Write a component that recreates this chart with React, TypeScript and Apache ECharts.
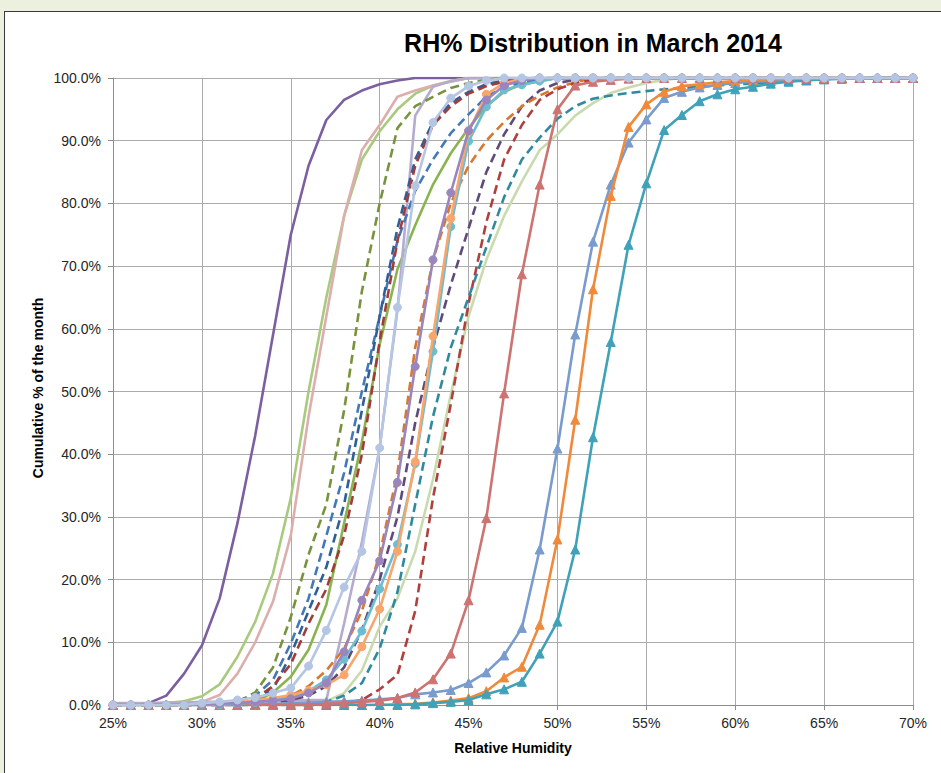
import React, { useEffect, useRef } from "react";
import * as echarts from "echarts";

// Relative humidity categories (%)
const rh = [
  25, 26, 27, 28, 29, 30, 31, 32, 33, 34,
  35, 36, 37, 38, 39, 40, 41, 42, 43, 44,
  45, 46, 47, 48, 49, 50, 51, 52, 53, 54,
  55, 56, 57, 58, 59, 60, 61, 62, 63, 64,
  65, 66, 67, 68, 69, 70,
];

const xTicks = [25, 30, 35, 40, 45, 50, 55, 60, 65, 70];
const yTicks = [0, 10, 20, 30, 40, 50, 60, 70, 80, 90, 100];

// Cumulative % of the month, one value per RH category
const purpleSolid = [
  0, 0, 0.3, 1.5, 5, 9.5, 17, 29, 43, 59,
  75, 86, 93.3, 96.5, 98, 99, 99.6, 100, 100, 100,
  100, 100, 100, 100, 100, 100, 100, 100, 100, 100,
  100, 100, 100, 100, 100, 100, 100, 100, 100, 100,
  100, 100, 100, 100, 100, 100,
];
const lightGreenSolid = [
  0, 0, 0.1, 0.3, 0.6, 1.4, 3.3, 7.7, 13.3, 21,
  33, 50, 65, 78, 87, 91.5, 95, 97.5, 98.8, 99.5,
  100, 100, 100, 100, 100, 100, 100, 100, 100, 100,
  100, 100, 100, 100, 100, 100, 100, 100, 100, 100,
  100, 100, 100, 100, 100, 100,
];
const pinkSolid = [
  0, 0, 0, 0, 0.2, 0.5, 1.6, 5, 10, 16.5,
  27, 46, 62, 78, 88.5, 92.5, 97, 98, 98.8, 99.4,
  100, 100, 100, 100, 100, 100, 100, 100, 100, 100,
  100, 100, 100, 100, 100, 100, 100, 100, 100, 100,
  100, 100, 100, 100, 100, 100,
];
const greenSolid = [
  0, 0, 0, 0, 0, 0, 0.1, 0.2, 0.5, 2,
  4.5, 8.8, 16, 29, 42, 57.5, 69.5, 76.5, 83, 88,
  92, 95.5, 97.8, 99, 99.5, 100, 100, 100, 100, 100,
  100, 100, 100, 100, 100, 100, 100, 100, 100, 100,
  100, 100, 100, 100, 100, 100,
];
const paleGreenSolid = [
  0, 0, 0, 0, 0, 0, 0, 0, 0, 0,
  0.1, 0.3, 0.6, 1.9, 5.5, 12.5, 17, 24.5, 36, 49.5,
  62, 71, 78, 83.5, 88.5, 91, 94, 96, 97.6, 98.5,
  99.2, 99.7, 100, 100, 100, 100, 100, 100, 100, 100,
  100, 100, 100, 100, 100, 100,
];
const lavenderSolid = [
  0.3, 0.3, 0.3, 0.4, 0.4, 0.5, 0.5, 0.6, 0.6, 0.7,
  0.7, 0.8, 0.8, 13, 26, 41, 63, 94, 98.6, 99.5,
  100, 100, 100, 100, 100, 100, 100, 100, 100, 100,
  100, 100, 100, 100, 100, 100, 100, 100, 100, 100,
  100, 100, 100, 100, 100, 100,
];
const oliveDashed = [
  0, 0, 0, 0, 0, 0, 0, 0.5, 2, 6,
  14, 24, 32, 47, 66, 80, 92, 95.5, 97, 98.4,
  99.2, 99.7, 100, 100, 100, 100, 100, 100, 100, 100,
  100, 100, 100, 100, 100, 100, 100, 100, 100, 100,
  100, 100, 100, 100, 100, 100,
];
const blueDashedA = [
  0, 0, 0, 0, 0, 0, 0.3, 0.7, 1.5, 4,
  9.8, 17, 27, 37, 50, 62, 74, 82, 87, 91.2,
  94.2, 97, 98.5, 99.3, 99.8, 100, 100, 100, 100, 100,
  100, 100, 100, 100, 100, 100, 100, 100, 100, 100,
  100, 100, 100, 100, 100, 100,
];
const blueDashedB = [
  0, 0, 0, 0, 0, 0, 0, 0.3, 1, 2.5,
  8, 15, 22, 32, 47, 62, 76, 87, 93, 96,
  97.8, 99, 99.6, 100, 100, 100, 100, 100, 100, 100,
  100, 100, 100, 100, 100, 100, 100, 100, 100, 100,
  100, 100, 100, 100, 100, 100,
];
const redDashedLeft = [
  0, 0, 0, 0, 0, 0, 0, 0.3, 1, 3,
  6.5, 13, 18.5, 27, 40, 58, 74, 86, 92.5, 95.5,
  97.5, 98.7, 99.4, 100, 100, 100, 100, 100, 100, 100,
  100, 100, 100, 100, 100, 100, 100, 100, 100, 100,
  100, 100, 100, 100, 100, 100,
];
const purpleDashed = [
  0, 0, 0, 0, 0, 0, 0, 0, 0, 0.3,
  0.8, 1.5, 3, 6, 12, 20, 30, 45, 57, 67,
  76, 85, 91, 95.5, 98, 99.2, 99.7, 100, 100, 100,
  100, 100, 100, 100, 100, 100, 100, 100, 100, 100,
  100, 100, 100, 100, 100, 100,
];
const orangeDashed = [
  0, 0, 0, 0, 0, 0, 0, 0, 0.3, 0.8,
  1.5, 3, 5.5, 9, 15, 24, 37, 57, 71, 80,
  86, 90, 93, 95.5, 97.2, 98.5, 99.3, 100, 100, 100,
  100, 100, 100, 100, 100, 100, 100, 100, 100, 100,
  100, 100, 100, 100, 100, 100,
];
const redDashedRight = [
  0, 0, 0, 0, 0, 0, 0, 0, 0, 0,
  0, 0, 0.1, 0.3, 0.8, 2.5, 4.8, 15, 33, 48,
  64, 77, 87, 92.5, 96.5, 98.2, 99.2, 99.7, 100, 100,
  100, 100, 100, 100, 100, 100, 100, 100, 100, 100,
  100, 100, 100, 100, 100, 100,
];
const tealDashed = [
  0, 0, 0, 0, 0, 0, 0, 0, 0, 0,
  0, 0, 0.5, 1.5, 3.5, 9, 18, 32, 46, 57,
  65, 73, 81, 87, 90.5, 93.5, 95.5, 96.7, 97.2, 97.6,
  97.9, 98.2, 98.4, 98.6, 98.8, 99, 99.1, 99.3, 99.5, 99.7,
  99.8, 100, 100, 100, 100, 100,
];
const blueTriangles = [
  0, 0, 0, 0, 0, 0, 0, 0, 0.1, 0.2,
  0.3, 0.4, 0.5, 0.6, 0.7, 0.9, 1.1, 1.7, 2, 2.4,
  3.5, 5.2, 7.9, 12.3, 24.8, 40.9, 59.1, 73.9, 83, 89.7,
  93.4, 96.8, 97.8, 98.5, 98.9, 99.2, 99.4, 99.5, 99.6, 99.7,
  99.8, 99.9, 100, 100, 100, 100,
];
const orangeTriangles = [
  0, 0, 0, 0, 0, 0, 0, 0, 0, 0,
  0, 0, 0, 0, 0, 0, 0.1, 0.2, 0.4, 0.7,
  1.1, 2.2, 4.4, 6.1, 12.8, 26.4, 45.5, 66.3, 81.2, 92.2,
  95.8, 97.8, 98.7, 99, 99.3, 99.5, 99.7, 99.8, 99.9, 100,
  100, 100, 100, 100, 100, 100,
];
const tealTriangles = [
  0, 0, 0, 0, 0, 0, 0, 0, 0, 0,
  0, 0, 0, 0, 0, 0, 0, 0.1, 0.3, 0.5,
  0.8, 1.7, 2.5, 3.7, 8.2, 13.3, 24.8, 42.7, 57.9, 73.4,
  83.2, 91.7, 94.1, 96.3, 97.4, 98.2, 98.6, 99.1, 99.4, 99.6,
  99.8, 99.9, 100, 100, 100, 100,
];
const redTriangles = [
  0, 0, 0, 0, 0, 0, 0, 0, 0, 0,
  0, 0, 0.2, 0.3, 0.5, 0.7, 1.1, 2, 4.1, 8.2,
  16.7, 29.8, 49.7, 68.7, 83, 95, 98.8, 99.4, 99.7, 99.9,
  100, 100, 100, 100, 100, 100, 100, 100, 100, 100,
  100, 100, 100, 100, 100, 100,
];
const cyanCircles = [
  0, 0, 0, 0, 0, 0, 0, 0.2, 0.4, 0.7,
  1.2, 2.2, 4, 7.3, 11.8, 18.5, 25.6, 38.5, 56.4, 76.3,
  89.9, 95.4, 98.1, 98.9, 99.5, 100, 100, 100, 100, 100,
  100, 100, 100, 100, 100, 100, 100, 100, 100, 100,
  100, 100, 100, 100, 100, 100,
];
const orangeCircles = [
  0, 0, 0, 0, 0, 0.2, 0.3, 0.5, 0.7, 1.1,
  1.6, 2.3, 3.2, 4.8, 9.3, 15.3, 24.5, 38.8, 58.8, 77.6,
  91.4, 97.4, 99.2, 99.8, 100, 100, 100, 100, 100, 100,
  100, 100, 100, 100, 100, 100, 100, 100, 100, 100,
  100, 100, 100, 100, 100, 100,
];
const purpleCircles = [
  0, 0, 0, 0, 0, 0.1, 0.2, 0.3, 0.5, 0.7,
  1, 1.9, 3.5, 8.5, 16.7, 23, 35.5, 54, 71, 81.7,
  91.6, 96.5, 98.8, 99.6, 100, 100, 100, 100, 100, 100,
  100, 100, 100, 100, 100, 100, 100, 100, 100, 100,
  100, 100, 100, 100, 100, 100,
];
const lightBlueCircles = [
  0, 0, 0, 0, 0, 0.3, 0.5, 0.8, 1.2, 1.9,
  2.7, 6.2, 11.9, 18.8, 24.5, 41, 63.4, 82.8, 92.9, 96.8,
  98.7, 99.6, 100, 100, 100, 100, 100, 100, 100, 100,
  100, 100, 100, 100, 100, 100, 100, 100, 100, 100,
  100, 100, 100, 100, 100, 100,
];

type Kind = "solid" | "dashed" | "circle" | "triangle";

const seriesDefs: { name: string; data: number[]; color: string; kind: Kind }[] = [
  { name: "S1", data: purpleSolid, color: "#7B5FA0", kind: "solid" },
  { name: "S2", data: lightGreenSolid, color: "#A9CA7E", kind: "solid" },
  { name: "S3", data: pinkSolid, color: "#DCAEAC", kind: "solid" },
  { name: "S4", data: greenSolid, color: "#8AB450", kind: "solid" },
  { name: "S5", data: paleGreenSolid, color: "#C9DBAE", kind: "solid" },
  { name: "S6", data: lavenderSolid, color: "#B6ABCF", kind: "solid" },
  { name: "S7", data: oliveDashed, color: "#77933C", kind: "dashed" },
  { name: "S8", data: blueDashedA, color: "#4479B8", kind: "dashed" },
  { name: "S9", data: blueDashedB, color: "#2F5F97", kind: "dashed" },
  { name: "S10", data: redDashedLeft, color: "#A23C3A", kind: "dashed" },
  { name: "S11", data: purpleDashed, color: "#604A7B", kind: "dashed" },
  { name: "S12", data: orangeDashed, color: "#D9782D", kind: "dashed" },
  { name: "S13", data: redDashedRight, color: "#B0403D", kind: "dashed" },
  { name: "S14", data: tealDashed, color: "#2F8A9E", kind: "dashed" },
  { name: "S15", data: blueTriangles, color: "#7A9BCD", kind: "triangle" },
  { name: "S16", data: orangeTriangles, color: "#F08A3A", kind: "triangle" },
  { name: "S17", data: tealTriangles, color: "#3FA2B9", kind: "triangle" },
  { name: "S18", data: redTriangles, color: "#CD7371", kind: "triangle" },
  { name: "S19", data: cyanCircles, color: "#6CBDD2", kind: "circle" },
  { name: "S20", data: orangeCircles, color: "#F8A66B", kind: "circle" },
  { name: "S21", data: purpleCircles, color: "#9A86BC", kind: "circle" },
  { name: "S22", data: lightBlueCircles, color: "#B4C6E4", kind: "circle" },
];

const FONT = "'Liberation Sans', Arial, sans-serif";

export default function App() {
  const ref = useRef<HTMLDivElement>(null);

  useEffect(() => {
    document.body.style.margin = "0";
    if (!ref.current) return;
    const chart = echarts.init(ref.current, null, { renderer: "svg" });

    const series = seriesDefs.map((s, idx) => ({
      type: "line",
      name: s.name,
      data: rh.map((x, i) => [x, s.data[i]]),
      symbol: s.kind === "circle" ? "circle" : s.kind === "triangle" ? "triangle" : "none",
      symbolSize: s.kind === "circle" ? 8 : s.kind === "triangle" ? 9 : 0,
      showSymbol: s.kind === "circle" || s.kind === "triangle",
      lineStyle: {
        color: s.color,
        width: 2.6,
        type: s.kind === "dashed" ? [9, 5] : "solid",
        cap: "butt",
      },
      itemStyle: { color: s.color, borderColor: s.color, borderWidth: 1 },
      z: 2 + idx * 0.01,
      silent: true,
    }));

    chart.setOption({
      animation: false,
      backgroundColor: "transparent",
      grid: { left: 113, top: 78, right: 28, bottom: 68, containLabel: false },
      xAxis: {
        type: "value",
        min: 25,
        max: 70,
        interval: 5,
        axisLine: { show: true, lineStyle: { color: "#8C8C8C", width: 1 } },
        axisTick: { show: true, length: 5, lineStyle: { color: "#8C8C8C" } },
        splitLine: { show: true, lineStyle: { color: "#ABABAB", width: 1 } },
        axisLabel: {
          color: "#262626",
          fontFamily: FONT,
          fontSize: 14,
          margin: 11,
          formatter: (v: number) => (xTicks.includes(v) ? `${v}%` : ""),
        },
      },
      yAxis: {
        type: "value",
        min: 0,
        max: 100,
        interval: 10,
        axisLine: { show: true, lineStyle: { color: "#8C8C8C", width: 1 } },
        axisTick: { show: true, length: 5, lineStyle: { color: "#8C8C8C" } },
        splitLine: { show: true, lineStyle: { color: "#ABABAB", width: 1 } },
        axisLabel: {
          color: "#262626",
          fontFamily: FONT,
          fontSize: 14,
          margin: 12,
          formatter: (v: number) => (yTicks.includes(v) ? `${v.toFixed(1)}%` : ""),
        },
      },
      graphic: [
        {
          type: "text",
          x: 593,
          y: 43,
          style: {
            text: "RH% Distribution in March 2014",
            fontFamily: FONT,
            fontWeight: "bold",
            fontSize: 25,
            fill: "#000000",
            textAlign: "center",
            textVerticalAlign: "middle",
          },
        },
        {
          type: "text",
          x: 513,
          y: 748,
          style: {
            text: "Relative Humidity",
            fontFamily: FONT,
            fontWeight: "bold",
            fontSize: 14,
            fill: "#000000",
            textAlign: "center",
            textVerticalAlign: "middle",
          },
        },
        {
          type: "text",
          x: 38,
          y: 388,
          rotation: Math.PI / 2,
          style: {
            text: "Cumulative % of the month",
            fontFamily: FONT,
            fontWeight: "bold",
            fontSize: 14,
            fill: "#000000",
            textAlign: "center",
            textVerticalAlign: "middle",
          },
        },
      ],
      series,
    });

    return () => chart.dispose();
  }, []);

  return (
    <div
      style={{
        position: "fixed",
        left: 0,
        top: 0,
        width: 941,
        height: 773,
        background: "#EBF1DE",
        overflow: "hidden",
      }}
    >
      <div
        style={{
          position: "absolute",
          left: 4,
          top: 11,
          width: 945,
          height: 780,
          background: "#FFFFFF",
          border: "1.5px solid #3A3A3A",
          boxSizing: "border-box",
        }}
      />
      <div
        ref={ref}
        style={{ position: "absolute", left: 0, top: 0, width: 941, height: 773 }}
      />
    </div>
  );
}
